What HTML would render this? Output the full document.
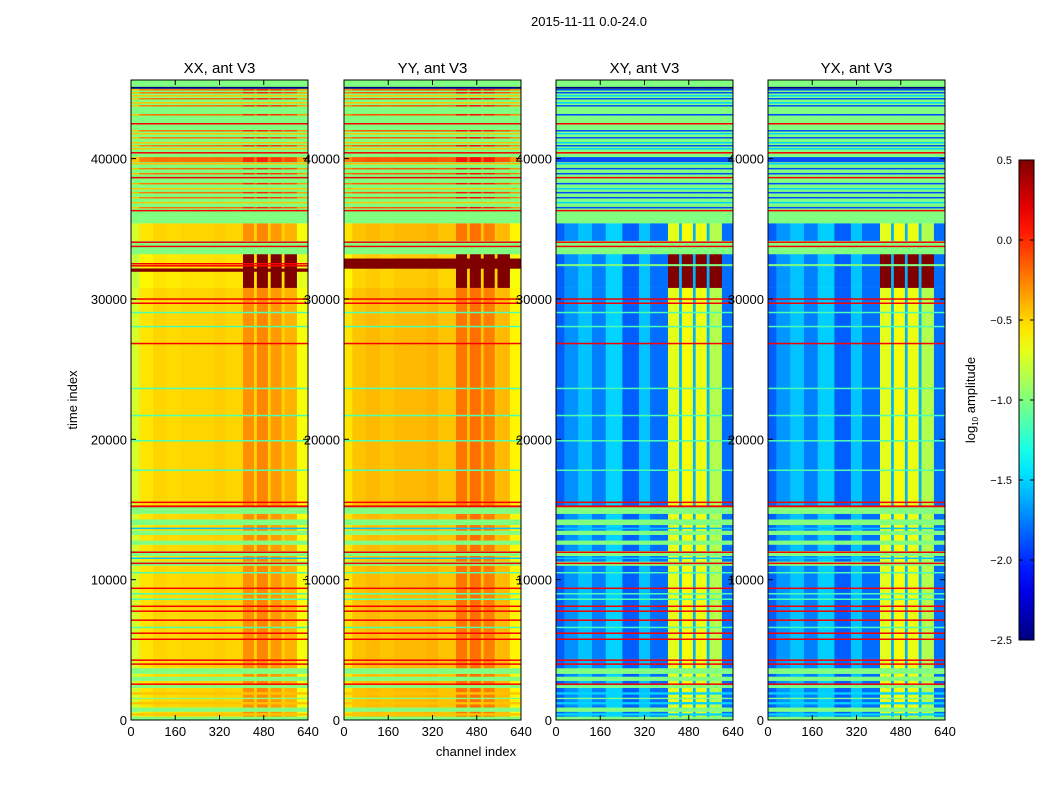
<!DOCTYPE html>
<html><head><meta charset="utf-8">
<style>
html,body{margin:0;padding:0;background:#fff;}
svg{display:block;font-family:"Liberation Sans","DejaVu Sans",sans-serif;}
</style></head>
<body>
<svg id="fig" width="1050" height="800" viewBox="0 0 1050 800" xmlns="http://www.w3.org/2000/svg">
<rect width="1050" height="800" fill="#fff"/>
<text x="589" y="26" font-size="13" text-anchor="middle">2015-11-11 0.0-24.0</text>
<g id="panels"></g>
<text x="0" y="0" font-size="13" text-anchor="middle" transform="translate(77,400) rotate(-90)">time index</text>
<text x="476" y="756" font-size="13" text-anchor="middle">channel index</text>
<g id="cbar"></g>
<text font-size="13" text-anchor="middle" transform="translate(975,400) rotate(-90)">log<tspan font-size="8" dy="3">10</tspan><tspan dy="-3"> amplitude</tspan></text>
</svg>
<script>
// ---- data ----
const panelTitles = ["XX, ant V3","YY, ant V3","XY, ant V3","YX, ant V3"];
const panelKinds = ["auto","auto","cross","cross"];
const chEdges = [0,30,80,130,180,240,300,340,405,445,455,495,505,545,555,600,640];
const profXX = [-0.75,-0.55,-0.5,-0.52,-0.5,-0.5,-0.48,-0.5,-0.3,-0.5,-0.27,-0.5,-0.33,-0.5,-0.4,-0.65];
const profYY = [-0.55,-0.45,-0.42,-0.45,-0.42,-0.42,-0.4,-0.45,-0.22,-0.45,-0.2,-0.45,-0.25,-0.45,-0.42,-0.6];
const profXY = [-1.85,-1.7,-1.55,-1.75,-1.5,-1.85,-1.55,-1.8,-0.7,-1.6,-0.65,-1.6,-0.68,-1.6,-0.85,-1.8];
const profYX = [-1.85,-1.68,-1.55,-1.75,-1.52,-1.85,-1.55,-1.8,-0.7,-1.6,-0.65,-1.6,-0.68,-1.6,-0.85,-1.8];
const satBands = [8,10,12,14];
// background time segments: start, end, type
const segStart = [0,250,600,900,1500,1600,2300,2500,2800,3100,3300,3700,4400,11000,11300,11700,12050,12500,12800,13200,13500,13900,14300,14700,15200,29600,30800,33200,34150,35400];
const segEnd   = [250,600,900,1500,1600,2300,2500,2800,3100,3300,3700,4400,11000,11300,11700,12050,12500,12800,13200,13500,13900,14300,14700,15200,29600,30800,33200,34150,35400,45600];
const segType  = ["F","D","F","D","F","D","F","D","F","D","F","D","D","F","D","F","D","F","D","F","D","F","D","F","D","D","S","F","D","F"];
// thin horizontal lines: time, thickness, type
const lineT = [45050,44910,44700,44480,44270,43980,43770,43130,42490,41990,41780,41490,41140,40920,40710,40420,39930,39640,39290,38930,38650,38220,37860,37580,37220,36870,36510,36300,
  33750,34050,30000,29700,29040,28040,26830,23630,21700,19900,17800,
  15515,15230,11960,11170,9390,8110,7760,7120,6190,5760,4270,3990,2560,13660,11530,8610,9000,6600,10500,1900,1200,400];
const lineW = [120,80,80,80,80,80,80,100,90,80,80,80,80,80,80,90,350,80,80,80,90,80,80,80,80,80,80,90,
  90,90,90,90,80,80,80,80,60,60,60,
  90,120,90,90,90,90,90,90,90,90,90,90,90,80,80,70,70,70,70,150,150,150];
const lineType = ["N","O","O","Y","O","Y","O","O","R","O","Y","O","Y","O","Y","R","O","Y","O","O","R","O","Y","O","O","Y","O","R",
  "R","R","R","R","G","G","R","G","G","G","G",
  "R","R","R","R","R","R","R","R","R","R","R","R","R","C","C","G","G","G","G","Y","Y","Y"];
// panel-specific features around the saturated RFI event
const extraPanel = [0,0,0,1,2,3];
const extraStart = [31950,32330,32480,32170,32350,32350];
const extraEnd   = [32170,32400,32550,32880,32480,32480];
const extraType  = ["K","R","R","K","F","F"];
const yTicks = [0,10000,20000,30000,40000];
const xTicks = [0,160,320,480,640];
const cbTicks = [0.5,0.0,-0.5,-1.0,-1.5,-2.0,-2.5];

// ---- layout ----
const panelX = [131,344,556,768], PW = 177, PT = 80, PB = 720, TMAX = 45600, CH = 640;
const VMIN = -2.5, VMAX = 0.5;
const NS = "http://www.w3.org/2000/svg";
function jet(v){
  let x = Math.max(0, Math.min(1, (v - VMIN) / (VMAX - VMIN)));
  const c = f => Math.round(255 * Math.max(0, Math.min(1, f)));
  return `rgb(${c(1.5-Math.abs(4*x-3))},${c(1.5-Math.abs(4*x-2))},${c(1.5-Math.abs(4*x-1))})`;
}
function yScale(t){ return PB - t / TMAX * (PB - PT); }
function xScale(p, ch){ return panelX[p] + ch / CH * PW; }
function mk(tag, attrs, parent){
  const e = document.createElementNS(NS, tag);
  for (const k in attrs) e.setAttribute(k, attrs[k]);
  parent.appendChild(e); return e;
}
const profs = [profXX, profYY, profXY, profYX];
function val(type, p, b){
  const auto = panelKinds[p] === "auto", pr = profs[p][b];
  switch(type){
    case "D": return pr;
    case "F": return -1.0;
    case "R": return 0.15;
    case "O": return auto ? pr + 0.3 : -1.9;
    case "Y": return auto ? -0.45 : -1.5;
    case "N": return -2.5;
    case "G": return -1.15;
    case "C": return -1.55;
    case "K": return 0.5;
    case "S": return satBands.includes(b) ? 0.5 : (auto ? pr - 0.05 : pr);
  }
  return pr;
}
function drawBand(g, p, t0, t1, type, minH){
  let y0 = yScale(t1), y1 = yScale(t0);
  if (y1 - y0 < minH){ const m = (y0 + y1) / 2; y0 = m - minH/2; y1 = m + minH/2; }
  for (let b = 0; b < chEdges.length - 1; b++){
    const x0 = xScale(p, chEdges[b]), x1 = xScale(p, chEdges[b+1]);
    const r = mk("rect", {x:x0.toFixed(2), y:y0.toFixed(2), width:(x1-x0+0.4).toFixed(2), height:(y1-y0+0.2).toFixed(2), fill:jet(val(type,p,b))}, g);
    
    
  }
}
const panels = document.getElementById("panels");
for (let p = 0; p < 4; p++){
  const g = mk("g", {}, panels);
  
  
  for (let i = 0; i < segStart.length; i++) drawBand(g, p, segStart[i], segEnd[i], segType[i], 0);
  for (let i = 0; i < lineT.length; i++) drawBand(g, p, lineT[i]-lineW[i]/2, lineT[i]+lineW[i]/2, lineType[i], 1.3);
  for (let i = 0; i < extraPanel.length; i++) if (extraPanel[i] === p) drawBand(g, p, extraStart[i], extraEnd[i], extraType[i], 1.3);
  const fr = mk("rect", {x:panelX[p], y:PT, width:PW, height:PB-PT, fill:"none", stroke:"#000", "stroke-width":1}, g);
  
  
  const tt = mk("text", {x:panelX[p]+PW/2, y:PT-7, "font-size":15, "text-anchor":"middle"}, panels);
  tt.textContent = panelTitles[p];
  
  
  for (const t of yTicks){
    const y = yScale(t);
    mk("line", {x1:panelX[p], x2:panelX[p]+5, y1:y, y2:y, stroke:"#000"}, g);
    mk("line", {x1:panelX[p]+PW-5, x2:panelX[p]+PW, y1:y, y2:y, stroke:"#000"}, g);
    const lb = mk("text", {x:panelX[p]-4, y:y+5, "font-size":13, "text-anchor":"end"}, panels);
    lb.textContent = t;
    
    
  }
  for (const c of xTicks){
    const x = xScale(p, c);
    mk("line", {x1:x, x2:x, y1:PB, y2:PB-5, stroke:"#000"}, g);
    mk("line", {x1:x, x2:x, y1:PT, y2:PT+5, stroke:"#000"}, g);
    const lb = mk("text", {x:x, y:PB+16, "font-size":13, "text-anchor":"middle"}, panels);
    lb.textContent = c;
    
    
  }
}
// colorbar
const cb = document.getElementById("cbar");
const CBX = 1019, CBW = 15, CBT = 160, CBB = 640;
const defs = mk("defs", {}, cb);
const grad = mk("linearGradient", {id:"jetg", x1:0, y1:1, x2:0, y2:0}, defs);
for (let i = 0; i <= 20; i++) mk("stop", {offset:i/20, "stop-color":jet(VMIN + i/20*(VMAX-VMIN))}, grad);
const cbr = mk("rect", {x:CBX, y:CBT, width:CBW, height:CBB-CBT, fill:"url(#jetg)", stroke:"#000", "stroke-width":1}, cb);


for (const v of cbTicks){
  const y = CBB - (v - VMIN) / (VMAX - VMIN) * (CBB - CBT);
  mk("line", {x1:CBX, x2:CBX+4, y1:y, y2:y, stroke:"#000"}, cb);
  mk("line", {x1:CBX+CBW-4, x2:CBX+CBW, y1:y, y2:y, stroke:"#000"}, cb);
  const lb = mk("text", {x:CBX-7, y:y+4, "font-size":11, "text-anchor":"end"}, cb);
  lb.textContent = (v < 0 ? "\u2212" + Math.abs(v).toFixed(1) : v.toFixed(1));
  
  
}
</script>
</body></html>
